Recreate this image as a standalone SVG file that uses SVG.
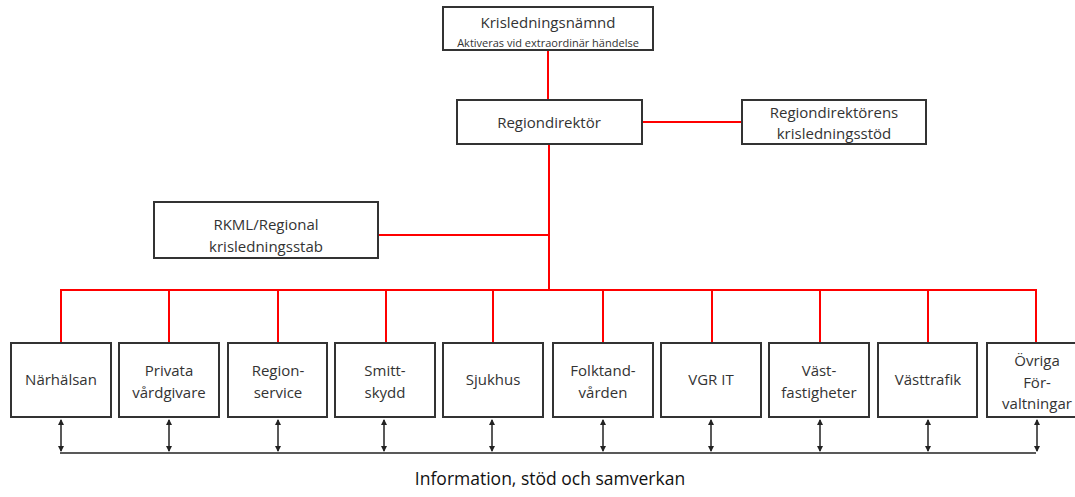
<svg xmlns="http://www.w3.org/2000/svg" width="1075" height="497" viewBox="0 0 1075 497">
<style>
.box{fill:#fff;stroke:#333;stroke-width:2}
.t{font-family:"Open Sans","Liberation Sans",Arial,sans-serif;font-size:15px;fill:#333;text-anchor:middle}
.s{font-size:11px}
.red{stroke:#ff0000;stroke-width:2;fill:none}
.blk{stroke:#222;stroke-width:1.5;fill:none}
</style>
<defs>
<marker id="ah" viewBox="0 0 6 6" refX="5" refY="3" markerWidth="6" markerHeight="6" markerUnits="userSpaceOnUse" orient="auto-start-reverse">
<path d="M0,0 L6,3 L0,6 Z" fill="#222"/>
</marker>
</defs>
<g id="connectors">
<path class="red" d="M548,50 V100 M549,144 V290 M642,122 H742 M378,235 H549 M61,343 V290 H1036 V343 M169,290 V343 M278,290 V343 M386,290 V343 M493,290 V343 M603,290 V343 M712,290 V343 M820,290 V343 M928,290 V343"/>
<path class="blk" d="M60,453 H1036"/>
<g class="blk" marker-start="url(#ah)" marker-end="url(#ah)">
<line x1="61" y1="420" x2="61" y2="451"/>
<line x1="169" y1="420" x2="169" y2="451"/>
<line x1="278" y1="420" x2="278" y2="451"/>
<line x1="384" y1="420" x2="384" y2="451"/>
<line x1="492" y1="420" x2="492" y2="451"/>
<line x1="603" y1="420" x2="603" y2="451"/>
<line x1="711" y1="420" x2="711" y2="451"/>
<line x1="820" y1="420" x2="820" y2="451"/>
<line x1="928" y1="420" x2="928" y2="451"/>
<line x1="1037" y1="420" x2="1037" y2="451"/>
</g>
</g>
<g id="krisledningsnamnd"><rect class="box" x="443" y="7" width="210" height="43"/><text class="t" x="548" y="28">Krisledningsnämnd</text><text class="t s" x="548" y="47">Aktiveras vid extraordinär händelse</text></g>
<g id="regiondirektor"><rect class="box" x="457" y="100" width="185" height="44"/><text class="t" x="549" y="128">Regiondirektör</text></g>
<g id="stod"><rect class="box" x="742" y="100" width="184" height="44"/><text class="t" x="834" y="118">Regiondirektörens</text><text class="t" x="834" y="139">krisledningsstöd</text></g>
<g id="rkml"><rect class="box" x="154" y="202" width="224" height="56"/><text class="t" x="266" y="230">RKML/Regional</text><text class="t" x="266" y="252">krisledningsstab</text></g>
<g id="narhalsan"><rect class="box" x="11" y="343" width="100" height="74"/><text class="t" x="61" y="385">Närhälsan</text></g>
<g id="privata"><rect class="box" x="119" y="343" width="100" height="74"/><text class="t" x="169" y="376">Privata</text><text class="t" x="169" y="398">vårdgivare</text></g>
<g id="regionservice"><rect class="box" x="228" y="343" width="99" height="74"/><text class="t" x="278" y="376">Region-</text><text class="t" x="278" y="398">service</text></g>
<g id="smittskydd"><rect class="box" x="335" y="343" width="100" height="74"/><text class="t" x="385" y="376">Smitt-</text><text class="t" x="385" y="398">skydd</text></g>
<g id="sjukhus"><rect class="box" x="443" y="343" width="100" height="74"/><text class="t" x="493" y="385">Sjukhus</text></g>
<g id="folktandvarden"><rect class="box" x="553" y="343" width="100" height="74"/><text class="t" x="603" y="376">Folktand-</text><text class="t" x="603" y="398">vården</text></g>
<g id="vgrit"><rect class="box" x="661" y="343" width="100" height="74"/><text class="t" x="711" y="385">VGR IT</text></g>
<g id="vastfastigheter"><rect class="box" x="769" y="343" width="100" height="74"/><text class="t" x="819" y="376">Väst-</text><text class="t" x="819" y="398">fastigheter</text></g>
<g id="vasttrafik"><rect class="box" x="878" y="343" width="99" height="74"/><text class="t" x="928" y="385">Västtrafik</text></g>
<g id="ovriga"><rect class="box" x="987" y="343" width="100" height="74"/><text class="t" x="1037" y="366">Övriga</text><text class="t" x="1037" y="388">För-</text><text class="t" x="1037" y="409">valtningar</text></g>
<text class="t" x="550" y="485" style="font-size:17.5px;fill:#111">Information, stöd och samverkan</text>
</svg>
